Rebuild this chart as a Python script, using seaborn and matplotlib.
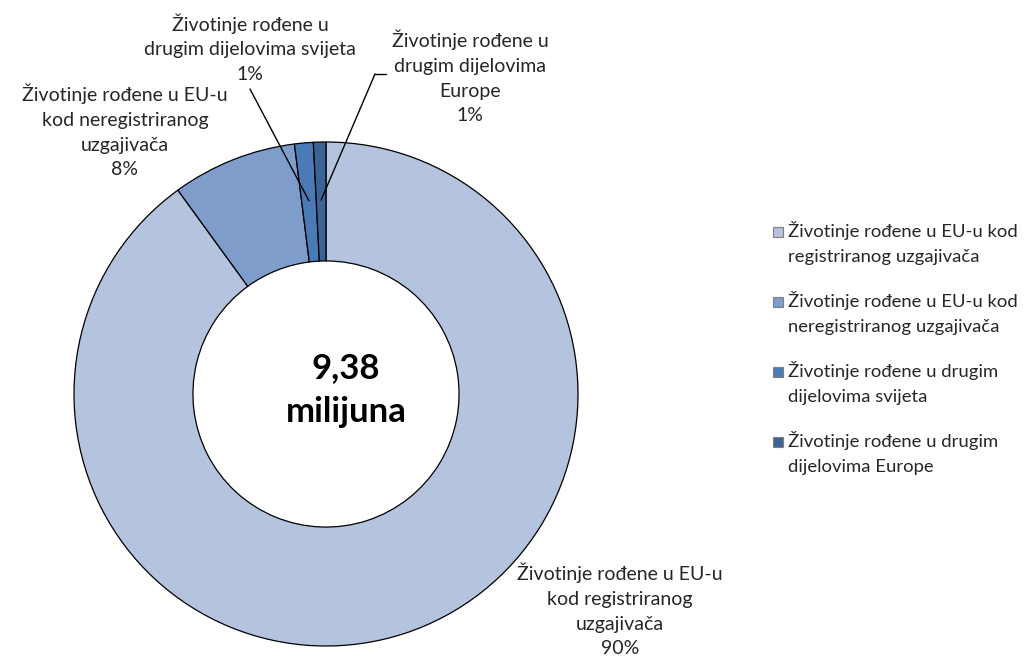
import numpy as np
import matplotlib
matplotlib.use("Agg")
import matplotlib.pyplot as plt
from matplotlib.patches import Rectangle
from matplotlib.lines import Line2D
import seaborn as sns

# Origin of animals (share of total, %)
categories = [
    "Životinje rođene u EU-u kod registriranog uzgajivača",
    "Životinje rođene u EU-u kod neregistriranog uzgajivača",
    "Životinje rođene u drugim dijelovima svijeta",
    "Životinje rođene u drugim dijelovima Europe",
]
shares = [90.0, 8.0, 1.2, 0.8]
colors = ["#B4C3DE", "#7F9DCB", "#4A7BB7", "#3B6496"]

# Wrapped text used in the data labels and the legend
slice_labels = [
    "Životinje rođene u EU-u\nkod registriranog\nuzgajivača",
    "Životinje rođene u EU-u\nkod neregistriranog\nuzgajivača",
    "Životinje rođene u\ndrugim dijelovima svijeta",
    "Životinje rođene u\ndrugim dijelovima\nEurope",
]
legend_labels = [
    "Životinje rođene u EU-u kod\nregistriranog uzgajivača",
    "Životinje rođene u EU-u kod\nneregistriranog uzgajivača",
    "Životinje rođene u drugim\ndijelovima svijeta",
    "Životinje rođene u drugim\ndijelovima Europe",
]
total_text = "9,38\nmilijuna"

sns.set_theme(style="white")
plt.rcParams["font.family"] = ["Lato", "DejaVu Sans"]

W, H = 1028, 659
fig = plt.figure(figsize=(W / 100, H / 100), dpi=100)
fig.patch.set_facecolor("white")


def fx(px):
    return px / W


def fy(py):
    return 1 - py / H


# Donut axes: centre (326, 394), outer radius 252 px
cx, cy, R = 326, 394, 252
ax = fig.add_axes([fx(cx - R), fy(cy + R), 2 * R / W, 2 * R / H])
wedges, _ = ax.pie(
    shares,
    colors=colors,
    startangle=90,
    counterclock=False,
    radius=1.0,
    wedgeprops=dict(width=0.472, edgecolor="black", linewidth=0.9),
)
ax.set_xlim(-1.0, 1.0)
ax.set_ylim(-1.0, 1.0)
ax.axis("off")

# Centre total
fig.text(fx(346), fy(390), total_text, ha="center", va="center",
         fontsize=25, fontweight="bold", color="black", linespacing=1.45)

lab_fs = 14
lab_ls = 1.55
leg_fs = 13.3
leg_ls = 1.7


def pct(v):
    return f"{v:.0f}%"


def mid_point(w, r=0.77):
    ang = np.deg2rad((w.theta1 + w.theta2) / 2)
    return r * np.cos(ang), r * np.sin(ang)


# Registered breeder (bottom right)
fig.text(fx(620), fy(610), slice_labels[0] + "\n" + pct(shares[0]),
         ha="center", va="center", fontsize=lab_fs, linespacing=lab_ls)
# Unregistered breeder (upper left)
fig.text(fx(125), fy(131), slice_labels[1] + "\n" + pct(shares[1]),
         ha="center", va="center", fontsize=lab_fs, linespacing=lab_ls)
# Rest of the world (top)
fig.text(fx(250), fy(48), slice_labels[2] + "\n" + pct(shares[2]),
         ha="center", va="center", fontsize=lab_fs, linespacing=lab_ls)
# Rest of Europe (top right)
fig.text(fx(470), fy(77), slice_labels[3] + "\n" + pct(shares[3]),
         ha="center", va="center", fontsize=lab_fs, linespacing=lab_ls)

# Leader lines for the two thin slices
ax.annotate("", xy=mid_point(wedges[2]), xycoords="data",
            xytext=(250, H - 89), textcoords="figure pixels",
            arrowprops=dict(arrowstyle="-", color="black", lw=1.0,
                            shrinkA=0, shrinkB=0))
ax.annotate("", xy=mid_point(wedges[3]), xycoords="data",
            xytext=(375, H - 74), textcoords="figure pixels",
            arrowprops=dict(arrowstyle="-", color="black", lw=1.0,
                            shrinkA=0, shrinkB=0))
fig.add_artist(Line2D([fx(375), fx(386)], [fy(74), fy(74)],
                      transform=fig.transFigure, color="black", lw=1.0))

# Legend
legend_y = [232, 302, 372, 442]
for col, lab, y in zip(colors, legend_labels, legend_y):
    fig.add_artist(Rectangle((fx(773), fy(y + 5)), 10 / W, 10 / H,
                             transform=fig.transFigure, facecolor=col,
                             edgecolor="#7f7f7f", linewidth=0.8))
    fig.text(fx(788), fy(y - 11), lab, ha="left", va="top",
             fontsize=leg_fs, linespacing=leg_ls,
             transform=fig.transFigure)

fig.savefig("out.png", dpi=100, facecolor="white")
